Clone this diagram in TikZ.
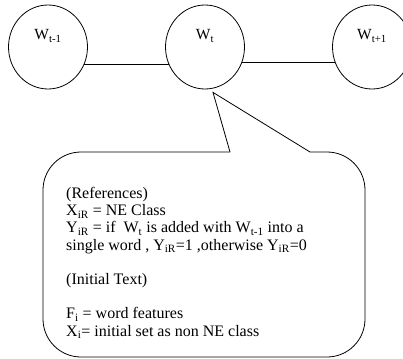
\documentclass[tikz,border=0pt]{standalone}
\usepackage{fontspec}
\setmainfont{Liberation Serif}
\usepackage{tikz}
\usetikzlibrary{shapes.geometric}

\tikzset{
	word/.style={draw, ellipse, line width=0.8pt, minimum width=79pt, minimum height=84pt, inner sep=0pt},
	wlabel/.style={font=\fontsize{15.5}{17}\selectfont, inner sep=0pt},
	link/.style={line width=1.5pt}
}

\begin{document}
\begin{tikzpicture}[x=1pt, y=-1pt]
			\useasboundingbox (0,0) rectangle (403,358);
			% the three words
			\node(wprev) [word] at (48,47) {};
			\node(wt) [word] at (205,47) {};
			\node(wnext) [word] at (372,47) {};
			\node(lprev) [wlabel] at ([yshift=11pt]wprev.center) {W\textsubscript{t-1}};
			\node(lt) [wlabel] at ([yshift=11pt]wt.center) {W\textsubscript{t}};
			\node(lnext) [wlabel] at ([yshift=11pt]wnext.center) {W\textsubscript{t+1}};
			\draw [link] (wprev.-26) -- (wt.206);
			\draw [link] (wt.-23) -- (wnext.203);
			% callout
			\coordinate (tip) at ([xshift=8pt, yshift=-3pt]wt.south);
			\coordinate (baseL) at (230,152);
			\coordinate (baseR) at (310,152);
			\draw [line width=0.8pt, rounded corners=38pt] (baseL) -- (43,152) -- (43,357) -- (365,357) -- (365,152) -- (baseR);
			\draw [line width=0.8pt] (baseL) -- (tip) -- (baseR);
			\node(notes) [anchor=north west, align=left, inner sep=0pt, font=\fontsize{16}{17.2}\selectfont] at (66,187)
			{
				(References)\\
				X\textsubscript{iR} = NE Class\\
				Y\textsubscript{iR} = if\ \ W\textsubscript{t} is added with W\textsubscript{t-1} into a\\
				single word , Y\textsubscript{iR}=1 ,otherwise Y\textsubscript{iR}=0\\
				\mbox{}\\
				(Initial Text)\\
				\mbox{}\\
				F\textsubscript{i} = word features\\
				X\textsubscript{i}= initial set as non NE class
			};
		\end{tikzpicture}
\end{document}
